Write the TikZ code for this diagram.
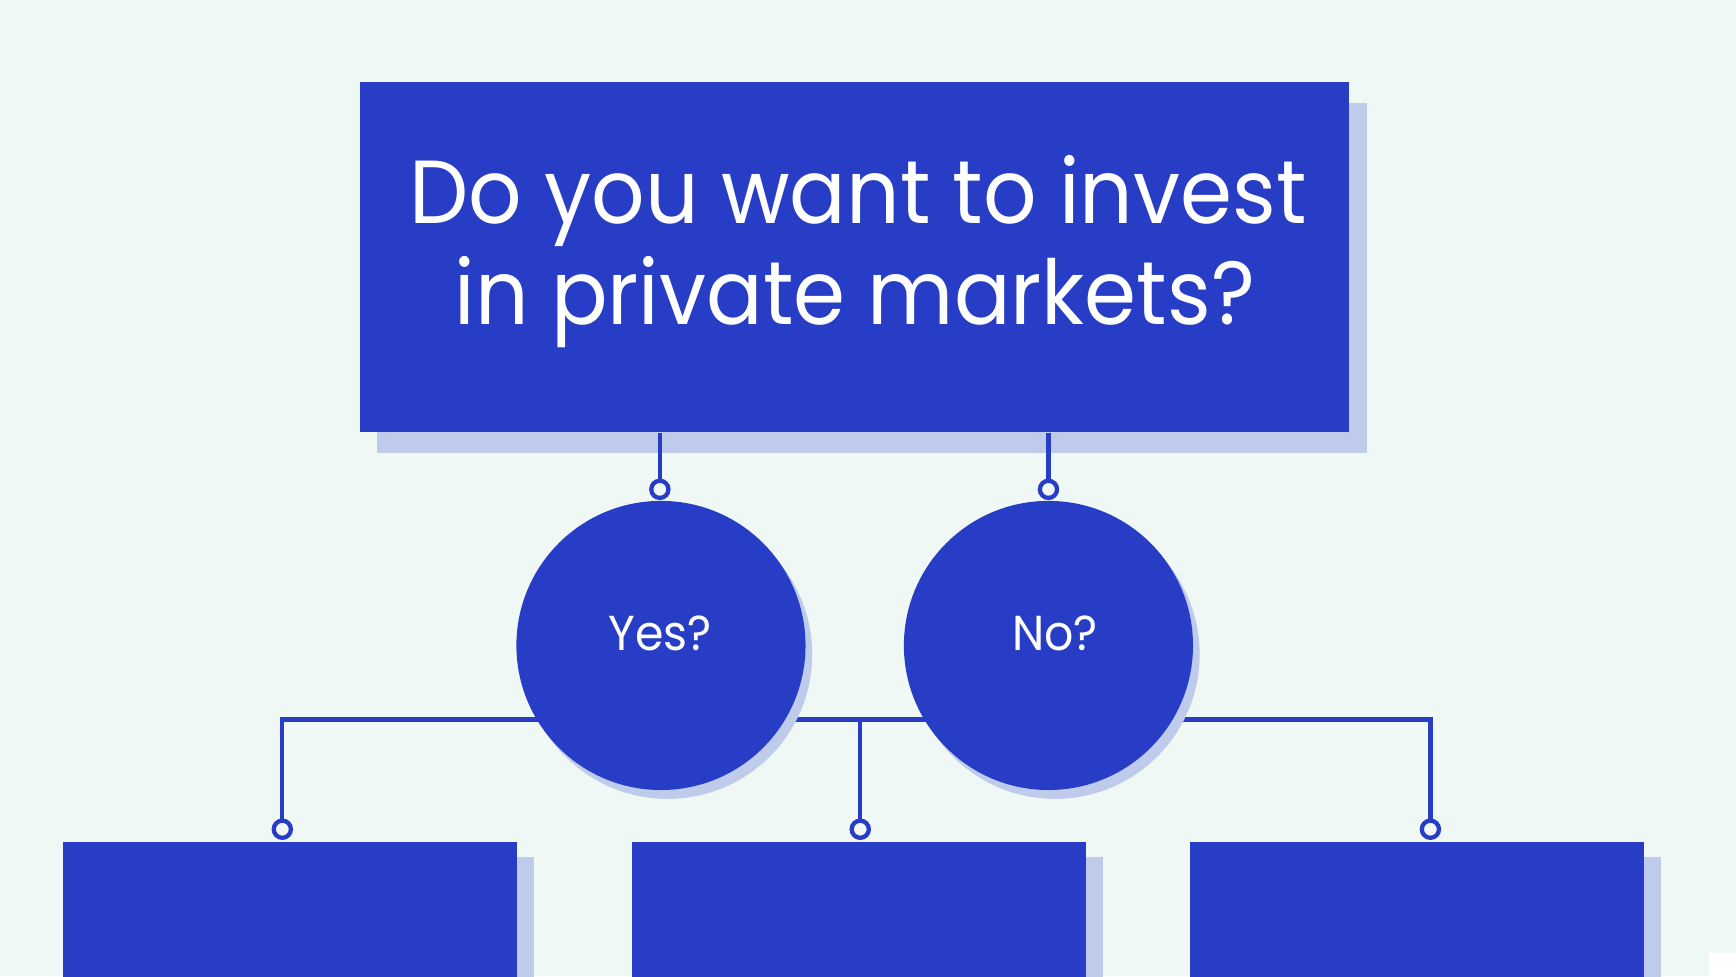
\documentclass[tikz,border=0pt]{standalone}
\usepackage{fontspec}
\setmainfont{Poppins}
\newfontfamily\qfont[FakeStretch=0.935]{Poppins}
\usetikzlibrary{shadows,backgrounds}
\definecolor{bgc}{HTML}{F0F8F6}
\definecolor{bluec}{HTML}{273DC6}
\definecolor{shadc}{HTML}{BFCBEA}
\tikzset{
  qbox/.style={rectangle, fill=bluec, inner sep=0pt,
    general shadow={fill=shadc, shadow xshift=0.16cm, shadow yshift=-0.19cm}},
  abox/.style={rectangle, fill=bluec, inner sep=0pt, minimum width=4.10cm, minimum height=2.40cm,
    general shadow={fill=shadc, shadow xshift=0.15cm, shadow yshift=-0.13cm}},
  ans/.style={circle, fill=bluec, inner sep=0pt, minimum size=2.61cm,
    general shadow={fill=shadc, shadow xshift=0.06cm, shadow yshift=-0.08cm}},
  dotc/.style={circle, draw=bluec, fill=bgc, line width=1.1pt, inner sep=0pt, minimum size=0.155cm},
  conn/.style={draw=bluec, line width=1.1pt},
  qtext/.style={text=white, font=\qfont\fontsize{23}{28}\selectfont, inner sep=0pt, anchor=base},
  atext/.style={text=white, font=\qfont\fontsize{12.6}{15}\selectfont, inner sep=0pt, anchor=base},
}
\begin{document}
\begin{tikzpicture}[x=0.01cm,y=-0.01cm]
\useasboundingbox (0,0) rectangle (1568,882);
\clip (0,0) rectangle (1568,882);
\begin{scope}[on background layer]
\fill[bgc] (0,0) rectangle (1568,882);
\fill[white] (1543.5,861) rectangle (1568,882);
\draw[black!4, line width=0.3pt] (1543.5,0) -- (1543.5,861);
\end{scope}
% question box
\node[qbox, minimum width=8.93cm, minimum height=3.16cm] (q) at (771.5,232) {};
\node[qtext] (q1) at (775,202) {Do you want to invest};
\node[qtext] (q2) at (772,293) {in private markets?};
% answers
\node[ans] (yes) at (597,583) {};
\node[ans] (no) at (947,583) {};
\node[atext] (yest) at (596,588) {Yes?};
\node[atext] (not) at (953,588) {No?};
% bottom boxes
\node[abox, anchor=north west] (b1) at (56,760) {};
\node[abox, anchor=north west] (b2) at (570,760) {};
\node[abox, anchor=north west] (b3) at (1074,760) {};
% dots
\node[dotc] (d1) at (596,442) {};
\node[dotc] (d2) at (947,442) {};
\node[dotc] (d3) at (255,749) {};
\node[dotc] (d4) at (777,749) {};
\node[dotc] (d5) at (1292,749) {};
\coordinate (hy) at (0,650);
% connectors
\draw[conn] (q.south -| d1) -- (d1.north);
\draw[conn] (q.south -| d2) -- (d2.north);
\begin{scope}[on background layer]
\draw[conn, line join=miter] (d3.north) -- (d3 |- hy) -- (d5 |- hy) -- (d5.north);
\draw[conn] (d4 |- hy) -- (d4.north);
\end{scope}
\end{tikzpicture}
\end{document}
